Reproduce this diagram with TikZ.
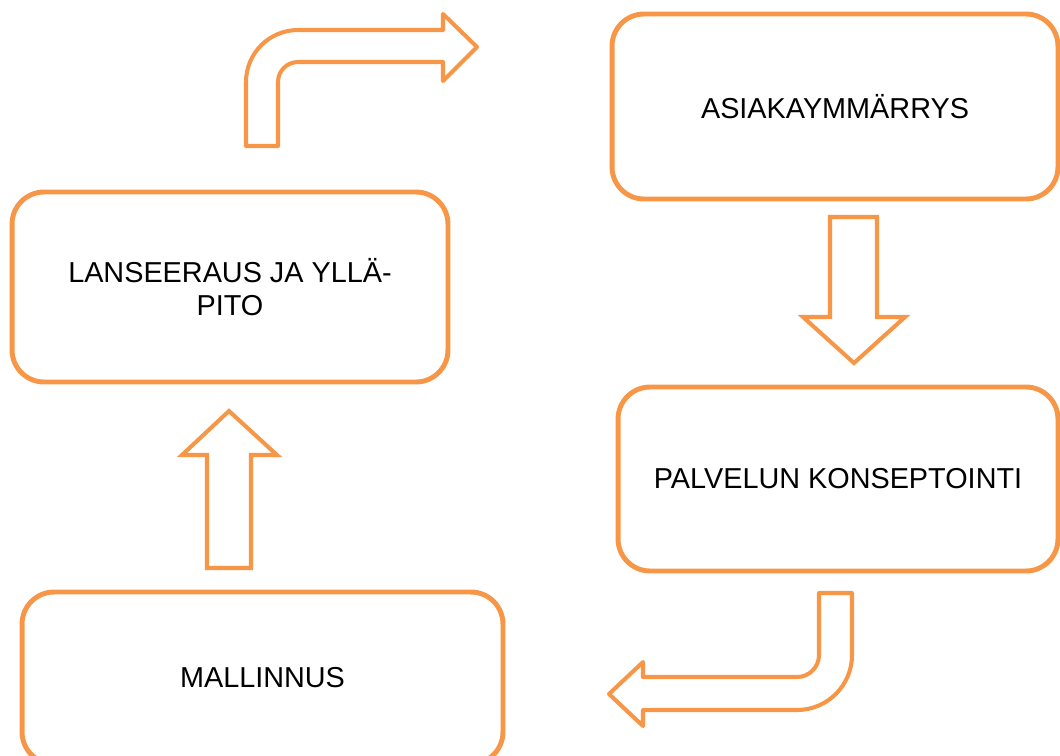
\documentclass[tikz,border=0pt]{standalone}
\usepackage{fontspec}
\setmainfont{Liberation Sans}
\definecolor{oranssi}{RGB}{247,150,70}
\begin{document}
\begin{tikzpicture}
	[
		x=0.02cm, y=-0.02cm,
		vaihe/.style={draw=oranssi, line width=2.8pt, rounded corners=0.64cm, align=center, inner sep=0pt, font=\fontsize{16.4}{18.8}\selectfont},
		nuoli/.style={draw=oranssi, line width=2.3pt, fill=white},
		kaarinuoli/.style={nuoli, line join=round}
	]

	\useasboundingbox (0,0) rectangle (1060,755);

		\node
		[vaihe, minimum width=8.92cm, minimum height=3.7cm]
		(asiakas) at (835,106.5)
		{ASIAKAYMMÄRRYS};

		\node
		[vaihe, minimum width=8.72cm, minimum height=3.8cm]
		(lanseeraus) at (230,287)
		{LANSEERAUS JA YLLÄ-\\PITO};

		\node
		[vaihe, minimum width=8.8cm, minimum height=3.68cm]
		(palvelu) at (838,479)
		{PALVELUN KONSEPTOINTI};

		\node
		[vaihe, minimum width=9.62cm, minimum height=3.44cm]
		(mallinnus) at (262.5,678)
		{MALLINNUS};

		% nuolet
		\draw
		[kaarinuoli]
		(246,146) -- (246,82) arc[start angle=180, end angle=90, radius=1.04cm]
		-- (443,30) -- (443,14) -- (477,47) -- (443,81) -- (443,62)
		-- (298,62) arc[start angle=90, end angle=180, radius=0.4cm]
		-- (278,146) -- cycle;

		\draw
		[nuoli]
		(830,217) -- (877,217) -- (877,317) -- (905,317) -- (854,363) -- (803,317) -- (830,317) -- cycle;

		\draw
		[kaarinuoli]
		(819,593) -- (852,593) -- (852,655) arc[start angle=0, end angle=-90, radius=1.1cm]
		-- (643,710) -- (643,726) -- (609,694) -- (643,662) -- (643,677)
		-- (797,677) arc[start angle=-90, end angle=0, radius=0.44cm]
		-- cycle;

		\draw
		[nuoli]
		(207,568) -- (207,455) -- (182,455) -- (229,411) -- (277,455) -- (251,455) -- (251,568) -- cycle;

\end{tikzpicture}
\end{document}
